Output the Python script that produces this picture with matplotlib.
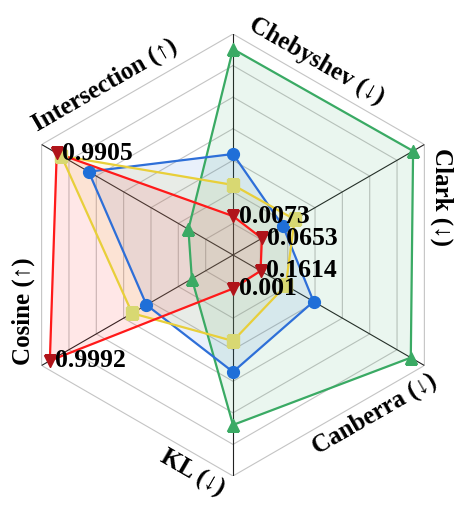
import matplotlib.pyplot as plt
import numpy as np

plt.rcParams["font.family"] = ["Liberation Serif", "DejaVu Serif"]

# Achsen (im Uhrzeigersinn ab oben)
metrics = ["Chebyshev (↓)", "Clark (↓)", "Canberra (↓)", "KL (↓)", "Cosine (↑)", "Intersection (↑)"]
axis_deg = [90, 30, -30, -90, 210, 150]

# normierte Radien
green_vals = [0.932, 0.941, 0.929, 0.769, 0.215, 0.233]
blue_vals = [0.457, 0.261, 0.421, 0.529, 0.452, 0.754]
yellow_vals = [0.317, 0.322, 0.276, 0.389, 0.527, 0.897]
red_vals = [0.176, 0.151, 0.144, 0.152, 0.957, 0.921]
red_labels = ["0.0073", "0.0653", "0.1614", "0.001", "0.9992", "0.9905"]

n_rings = 7

fig = plt.figure(figsize=(4.69, 5.14), dpi=100)
ax = fig.add_axes([0.0256, 0.0739, 0.9424, 0.86], projection="polar")
ax.set_ylim(0, 1)
ax.set_xticks([])
ax.set_yticks([])
ax.grid(False)
ax.spines["polar"].set_visible(False)

theta = np.deg2rad(axis_deg)
closed = np.append(theta, theta[0])

# sechseckiges Gitter
for k in range(1, n_rings + 1):
    ax.plot(closed, [k / n_rings] * len(closed), color="#c4c4c4", lw=0.8, zorder=1)
for t in theta:
    ax.plot([t, t], [0, 1], color="#222222", lw=0.8, zorder=1)

series = [
    (green_vals, "#3aaa64", "#3aaa64", "^"),
    (blue_vals, "#2e6fd8", "#1f6fd8", "o"),
    (yellow_vals, "#e8cf3a", "#d8d872", "s"),
    (red_vals, "#ff1a1a", "#b0141a", "v"),
]

for vals, line_c, mark_c, marker in series:
    v = np.append(vals, vals[0])
    ax.fill(closed, v, color=line_c, alpha=0.1, zorder=2)
    ax.plot(closed, v, color=line_c, lw=1.6, zorder=3)
    ax.plot(theta, vals, ls="none", marker=marker, ms=8.5,
            mfc=mark_c, mec=mark_c, zorder=4)

for t, val, txt in zip(theta, red_vals, red_labels):
    ax.annotate(txt, (t, val), xytext=(4, 0), textcoords="offset points",
                ha="left", va="center", fontsize=18.5, fontweight="bold", zorder=5)

# Achsenbeschriftungen entlang der Sechseckkanten
label_pos = [(66.7, 0.956, -30), (15.5, 0.981, -90), (-48.3, 0.966, 30),
             (-100.7, 1.007, -30), (194.9, 0.983, 90), (127.0, 0.963, 30)]
for name, (a, r, rot) in zip(metrics, label_pos):
    ax.text(np.deg2rad(a), r, name, rotation=rot, rotation_mode="anchor",
            ha="center", va="center", fontsize=18, fontweight="bold")

plt.savefig("out.png", dpi=100)
